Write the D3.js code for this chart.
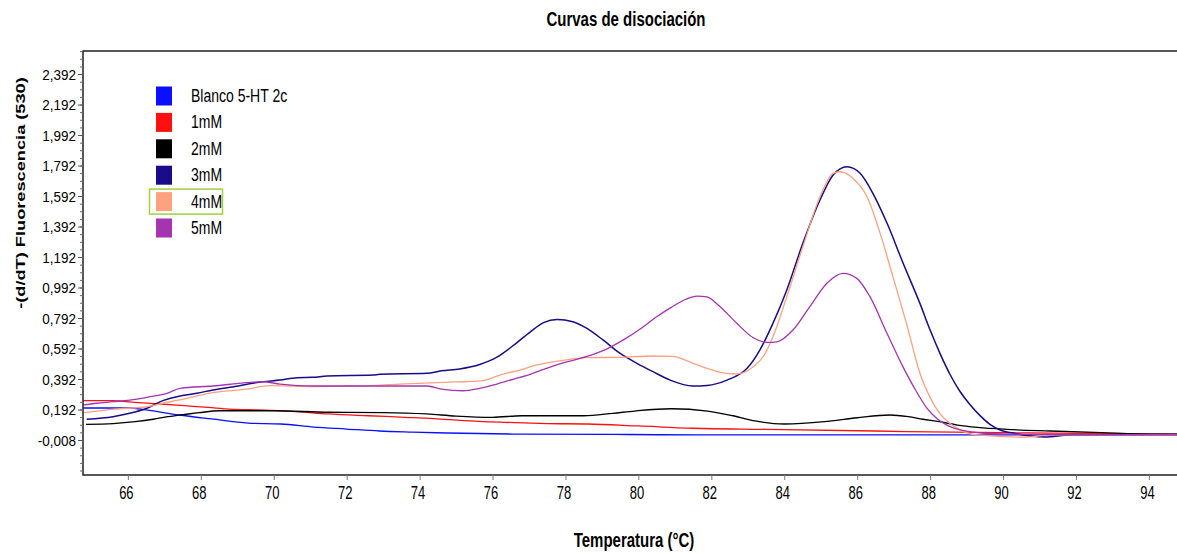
<!DOCTYPE html>
<html>
<head>
<meta charset="utf-8">
<script src="https://cdn.jsdelivr.net/npm/d3@7"></script>
<style>
  html, body { margin: 0; padding: 0; background: #fff; }
  svg { display: block; }
  text { font-family: "Liberation Sans", Arial, sans-serif; fill: #000; }
</style>
</head>
<body>
<svg id="chart" width="1177" height="554"></svg>
<script>
// ---- Data (temperature °C, -(d/dT) fluorescence) ----
const seriesNames = ["Blanco 5-HT 2c", "1mM", "2mM", "3mM", "4mM", "5mM"];
const seriesColors = ["#0a10ff", "#ff1010", "#000000", "#1a0b8a", "#ffa07f", "#a534b0"];

const blanco = [[64.77,0.202],[66.05,0.202],[66.5,0.189],[67.4,0.156],[68.3,0.13],[69.3,0.103],[70.2,0.097],[71.1,0.077],[72.0,0.064],[72.9,0.051],[73.8,0.044],[74.75,0.038],[76.56,0.031],[79.7,0.028],[81.7,0.025],[94.77,0.025]];
const mM1 = [[64.77,0.250],[65.56,0.250],[66.3,0.237],[66.9,0.228],[67.55,0.217],[68.2,0.206],[68.8,0.195],[69.6,0.189],[70.6,0.178],[71.5,0.163],[72.6,0.151],[73.6,0.141],[74.4,0.132],[75.2,0.119],[76.3,0.108],[77.5,0.100],[78.6,0.097],[80.0,0.084],[81.5,0.069],[83.5,0.062],[86.5,0.051],[88.0,0.045],[90.0,0.040],[92.0,0.035],[94.77,0.031]];
const mM2 = [[64.85,0.095],[65.6,0.100],[66.2,0.112],[66.7,0.128],[67.1,0.145],[67.6,0.161],[67.95,0.171],[68.5,0.184],[70.0,0.184],[71.5,0.174],[73.0,0.172],[74.2,0.163],[75.0,0.149],[76.0,0.141],[76.8,0.151],[78.5,0.151],[79.3,0.167],[79.9,0.182],[80.9,0.197],[81.9,0.182],[82.6,0.151],[83.2,0.117],[84.0,0.097],[85.1,0.112],[86.0,0.138],[86.9,0.156],[87.4,0.145],[87.8,0.128],[88.25,0.112],[88.75,0.090],[89.3,0.075],[90.1,0.062],[91.3,0.051],[92.7,0.040],[94.1,0.031],[94.77,0.031]];
const mM3 = [[64.87,0.128],[65.59,0.145],[66.05,0.167],[66.52,0.200],[66.96,0.250],[67.43,0.281],[67.89,0.298],[68.33,0.320],[68.8,0.338],[69.7,0.374],[70.17,0.385],[70.64,0.401],[71.07,0.403],[71.46,0.412],[72.72,0.418],[72.91,0.423],[74.2,0.429],[74.6,0.446],[75.1,0.458],[75.65,0.487],[76.12,0.535],[76.56,0.610],[77.03,0.700],[77.4,0.762],[77.77,0.783],[78.2,0.768],[78.59,0.724],[79.03,0.648],[79.49,0.561],[79.96,0.495],[80.4,0.440],[80.87,0.385],[81.5,0.346],[81.88,0.350],[82.43,0.385],[82.98,0.462],[83.33,0.582],[83.69,0.757],[84.07,0.976],[84.51,1.282],[84.98,1.566],[85.34,1.730],[85.72,1.784],[86.08,1.741],[86.43,1.610],[86.82,1.413],[87.26,1.151],[87.72,0.888],[88.0,0.713],[88.27,0.560],[88.55,0.420],[88.82,0.310],[89.09,0.225],[89.37,0.152],[89.64,0.095],[89.92,0.058],[90.33,0.035],[91.15,0.012],[91.84,0.025],[94.77,0.028]];
const mM4 = [[64.77,0.171],[65.64,0.195],[66.52,0.210],[66.96,0.233],[67.62,0.265],[68.25,0.300],[69.26,0.326],[69.9,0.349],[71.07,0.343],[72.36,0.346],[73.46,0.359],[74.69,0.370],[75.74,0.382],[76.2,0.418],[76.75,0.451],[77.22,0.484],[77.66,0.505],[78.12,0.521],[78.59,0.532],[79.49,0.534],[80.4,0.543],[80.95,0.540],[81.5,0.495],[81.88,0.462],[82.24,0.436],[82.7,0.425],[83.14,0.470],[83.42,0.538],[83.69,0.669],[84.07,0.932],[84.51,1.260],[84.98,1.587],[85.34,1.741],[85.53,1.751],[85.88,1.708],[86.27,1.587],[86.63,1.347],[86.98,1.063],[87.37,0.740],[87.72,0.430],[88.0,0.270],[88.27,0.165],[88.55,0.100],[88.82,0.058],[89.29,0.025],[90.6,0.010],[91.3,0.025],[94.77,0.025]];
const mM5 = [[64.77,0.222],[65.15,0.233],[65.59,0.243],[66.05,0.254],[66.52,0.272],[67.07,0.298],[67.43,0.331],[68.33,0.346],[69.26,0.368],[69.7,0.374],[70.17,0.359],[71.07,0.346],[74.2,0.346],[74.6,0.326],[75.19,0.315],[75.65,0.331],[76.12,0.359],[76.56,0.390],[77.03,0.423],[77.4,0.455],[77.8,0.488],[78.59,0.540],[79.1,0.585],[79.6,0.650],[80.05,0.720],[80.5,0.800],[80.9,0.862],[81.3,0.915],[81.61,0.936],[81.88,0.930],[82.24,0.866],[82.7,0.757],[83.14,0.664],[83.53,0.632],[83.8,0.636],[84.24,0.713],[84.7,0.866],[85.17,1.020],[85.61,1.085],[85.99,1.052],[86.35,0.932],[86.82,0.690],[87.26,0.470],[87.6,0.320],[87.9,0.205],[88.2,0.130],[88.5,0.085],[88.9,0.055],[89.4,0.038],[90.2,0.030],[94.77,0.025]];

const seriesData = [blanco, mM1, mM2, mM3, mM4, mM5];
const xTicks = [66, 68, 70, 72, 74, 76, 78, 80, 82, 84, 86, 88, 90, 92, 94];
const yTicks = [-0.008, 0.192, 0.392, 0.592, 0.792, 0.992, 1.192, 1.392, 1.592, 1.792, 1.992, 2.192, 2.392];
const titleText = "Curvas de disociación";
const xTitle = "Temperatura (°C)";
const yTitle = "-(d/dT) Fluorescencia (530)";
const highlighted = "4mM";

// ---- Layout ----
const plot = { left: 83, top: 51, right: 1177, bottom: 475 };
const VS = 1.35; // vertical stretch of glyphs seen in the reference

const svg = d3.select("#chart");
const x = d3.scaleLinear().domain([64.77, 94.77]).range([plot.left, plot.right]);
const y = d3.scaleLinear().domain([-0.2375, 2.543]).range([plot.bottom, plot.top]);

// Title
svg.append("text")
  .attr("transform", `translate(626,26) scale(1,${VS})`)
  .attr("text-anchor", "middle")
  .style("font-size", "15px").style("font-weight", "bold")
  .text(titleText);

// Clip
svg.append("clipPath").attr("id", "clip").append("rect")
  .attr("x", plot.left).attr("y", plot.top)
  .attr("width", plot.right - plot.left).attr("height", plot.bottom - plot.top);

// Lines
const line = d3.line().x(d => x(d[0])).y(d => y(d[1])).curve(d3.curveMonotoneX);
const lg = svg.append("g").attr("clip-path", "url(#clip)");
seriesData.forEach((s, i) => {
  lg.append("path").datum(s)
    .attr("fill", "none")
    .attr("stroke", seriesColors[i])
    .attr("stroke-width", i === 3 ? 1.5 : 1.3)
    .attr("d", line);
});

// Frame
svg.append("path")
  .attr("d", `M${plot.right},${plot.top}H${plot.left}V${plot.bottom}H${plot.right}`)
  .attr("fill", "none").attr("stroke", "#222").attr("stroke-width", 1.5);

// Y axis minor ticks
const yMinor = d3.range(-0.208, 2.55, 0.05).filter(v => v >= -0.2375 && v <= 2.543);
svg.append("g").attr("transform", `translate(${plot.left},0)`)
  .call(d3.axisLeft(y).tickValues(yMinor).tickSize(3).tickFormat(""))
  .call(g => g.select(".domain").remove())
  .call(g => g.selectAll("line").attr("stroke", "#666"));

// Y axis major
const fmt = v => d3.format(".3f")(v).replace(".", ",").replace("−", "-");
svg.append("g").attr("transform", `translate(${plot.left},0)`)
  .call(d3.axisLeft(y).tickValues(yTicks).tickSize(5).tickPadding(2).tickFormat(fmt))
  .call(g => g.select(".domain").remove())
  .call(g => g.selectAll("line").attr("stroke", "#555"))
  .call(g => g.selectAll("text")
      .style("font-size", "13.5px").style("font-family", "'Liberation Sans', Arial, sans-serif")
      .attr("dy", null).attr("y", 0)
      .attr("transform", `scale(1,1.15)`)
      .attr("dominant-baseline", "central"));

// X axis
svg.append("g").attr("transform", `translate(0,${plot.bottom})`)
  .call(d3.axisBottom(x).tickValues(xTicks).tickSize(5).tickFormat(d3.format("d")))
  .call(g => g.select(".domain").remove())
  .call(g => g.selectAll("line").attr("stroke", "#777"))
  .call(g => g.selectAll("text")
      .style("font-size", "13px").style("font-family", "'Liberation Sans', Arial, sans-serif")
      .attr("dy", null).attr("y", 0)
      .attr("transform", `translate(-2,24) scale(1,${VS})`));

// Axis titles
svg.append("text")
  .attr("transform", `translate(634,547) scale(1,${VS})`)
  .attr("text-anchor", "middle")
  .style("font-size", "15px").style("font-weight", "bold")
  .text(xTitle);

svg.append("text")
  .attr("transform", `translate(25,193) rotate(-90) scale(${VS},1)`)
  .attr("text-anchor", "middle")
  .style("font-size", "13.5px").style("font-weight", "bold")
  .text(yTitle);

// Legend
const legend = svg.append("g");
seriesNames.forEach((name, i) => {
  const cy = 96 + i * 26.4;
  if (name === highlighted) {
    legend.append("rect")
      .attr("x", 149.5).attr("y", cy - 12.5).attr("width", 73).attr("height", 25)
      .attr("fill", "none").attr("stroke", "#9fd23a").attr("stroke-width", 1.5);
  }
  legend.append("rect")
    .attr("x", 156).attr("y", cy - 9.5).attr("width", 16).attr("height", 19)
    .attr("fill", seriesColors[i]);
  legend.append("text")
    .attr("transform", `translate(191,${cy + 6}) scale(1,${VS})`)
    .style("font-size", "14px")
    .text(name);
});
</script>
</body>
</html>
